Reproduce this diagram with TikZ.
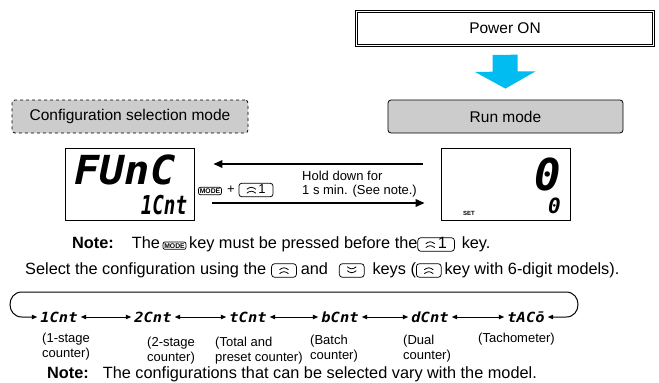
\documentclass[tikz,border=0pt]{standalone}
\usepackage{fontspec}
\usepackage{graphicx}
\setmainfont{Liberation Sans}
\newfontfamily\segfont{DejaVu Sans Mono}
\usetikzlibrary{arrows.meta}
\definecolor{flowblue}{RGB}{0,188,240}
\definecolor{boxgray}{RGB}{204,204,204}

\newcommand{\chevup}{\tikz[baseline=-0.3pt,line width=0.8pt,line cap=butt]{\draw (0pt,0pt)--(4.5pt,3pt)--(9pt,0pt);\draw (0pt,3.9pt)--(4.5pt,6.9pt)--(9pt,3.9pt);}}
\newcommand{\chevdown}{\tikz[baseline=-0.3pt,line width=0.8pt,line cap=butt]{\draw (0pt,6.9pt)--(4.5pt,3.9pt)--(9pt,6.9pt);\draw (0pt,3pt)--(4.5pt,0pt)--(9pt,3pt);}}
\newcommand{\keycap}[1]{\tikz[baseline=(kc.base)]\node[draw,line width=0.75pt,rounded corners=3pt,inner xsep=7.5pt,inner ysep=0.8pt,text height=9.5pt,text depth=2.5pt](kc){#1};}
\newcommand{\modekey}{\tikz[baseline=(mk.base)]\node[draw,line width=0.75pt,rounded corners=2pt,inner xsep=1.3pt,inner ysep=1.3pt,font=\fontsize{6.8}{7}\selectfont\bfseries](mk){MODE};}

\begin{document}
\begin{tikzpicture}[x=1pt,y=-1pt,
  boxlbl/.style={font=\fontsize{15.5}{17}\selectfont},
  body/.style={font=\fontsize{16.3}{18}\selectfont,inner sep=0pt},
  small/.style={font=\fontsize{13}{14.5}\selectfont,inner sep=0pt,align=left},
  dispbox/.style={draw,line width=0.8pt,fill=white,minimum width=129pt,minimum height=72pt},
  seg/.style={font=\segfont\bfseries\itshape,inner sep=0pt},
  conn/.style={line width=1.8pt},
  dbl/.style={line width=1pt,{Triangle[length=5.5pt,width=4.5pt]}-{Triangle[length=5.5pt,width=4.5pt]},shorten <=3pt,shorten >=3pt}
]
\useasboundingbox (0,0) rectangle (659,383);

% top boxes
\node[draw,double,line width=0.6pt,double distance=1.6pt,minimum width=297pt,minimum height=34pt,boxlbl] (power) at (505,28.5) {Power ON};
\node[draw,fill=boxgray,rounded corners=3pt,line width=0.8pt,minimum width=235pt,minimum height=33pt,boxlbl] (run) at (505.5,116.5) {Run mode};
\node[draw,dashed,fill=boxgray,rounded corners=3pt,line width=0.8pt,minimum width=236pt,minimum height=33pt,boxlbl] (cfg) at (130,116.5) {Configuration selection mode};
\draw[flowblue,line width=25pt,-{Triangle[length=17pt,width=60pt]},shorten <=9pt,shorten >=11pt] (power.south) -- (run.north);

% displays
\node[dispbox] (fdisp) at (130,184) {};
\node[dispbox] (rdisp) at (506,184) {};
\node[seg,font=\segfont\bfseries\itshape\fontsize{40}{40}\selectfont] (func) at (125,170) {\scalebox{1.05}[1]{FUnC}};
\node[seg,font=\segfont\bfseries\itshape\fontsize{26}{26}\selectfont] (onecnt) at (164,205) {\scalebox{0.74}[1]{1Cnt}};
\node[seg,anchor=north east,align=right,font=\segfont\bfseries\itshape\fontsize{21}{21}\selectfont] (zeros) at (561,158) {{\fontsize{44}{44}\selectfont 0}\\[1.5pt]0};
\node[inner sep=0pt,font=\fontsize{6}{6}\selectfont\bfseries] (set) at (469,213) {SET};

% connectors between displays
\draw[conn,-{Triangle[length=9pt,width=7.5pt]},shorten <=18.5pt,shorten >=18.5pt] ([yshift=20pt]rdisp.west) -- ([yshift=20pt]fdisp.east);
\draw[conn,-{Triangle[length=9pt,width=7.5pt]},shorten <=17.5pt,shorten >=16.5pt] ([yshift=-19pt]fdisp.east) -- ([yshift=-19pt]rdisp.west);
\node[inner sep=0pt] (modek) at (210,191) {\modekey};
\node[small] (plus) at (231,190) {+};
\node[inner sep=0pt,font=\fontsize{13}{14.5}\selectfont] (k1) at (256,190) {\keycap{\chevup\,1}};
\node[small,anchor=west] (hold) at (302,184) {Hold down for\\1 s min. (See note.)};

% notes
\node[body,anchor=base west] (note1) at (72,248) {\textbf{Note:}\hspace{18pt}The\,\modekey\,key must be pressed before the\keycap{\chevup\,1}\hspace{7pt}key.};
\node[body,anchor=base west] (select) at (25,274) {Select the configuration using the\hspace{5pt}\keycap{\chevup}\hspace{4pt}and\hspace{11pt}\keycap{\chevdown}\hspace{8pt}keys (\keycap{\chevup}\hspace{3pt}key with 6-digit models).};

% configuration row
\tikzset{rowseg/.style={seg,font=\segfont\bfseries\itshape\fontsize{14}{14}\selectfont}}
\node[rowseg] (w1) at (59,317) {\scalebox{1.1}[1]{1Cnt}};
\node[rowseg] (w2) at (153,317) {\scalebox{1.1}[1]{2Cnt}};
\node[rowseg] (w3) at (248,317) {\scalebox{1.1}[1]{tCnt}};
\node[rowseg] (w4) at (340,317) {\scalebox{1.1}[1]{bCnt}};
\node[rowseg] (w5) at (430,317) {\scalebox{1.1}[1]{dCnt}};
\node[rowseg] (w6) at (526,317) {\scalebox{1.1}[1]{tACō}};
\draw[dbl] (w1) -- (w2);
\draw[dbl] (w2) -- (w3);
\draw[dbl] (w3) -- (w4);
\draw[dbl] (w4) -- (w5);
\draw[dbl] (w5) -- (w6);
\draw[dbl] (w6.east) -- (566,317) .. controls (582,317) and (582,292) .. (566,292) -- (22,292) .. controls (6,292) and (6,317) .. (22,317) -- (w1.west);

% captions
\node[small,anchor=north west] (c1) at (42,333) {(1-stage\\counter)};
\node[small,anchor=north west] (c2) at (147,337) {(2-stage\\counter)};
\node[small,anchor=north west] (c3) at (215,337) {(Total and\\preset counter)};
\node[small,anchor=north west] (c4) at (310,335) {(Batch\\counter)};
\node[small,anchor=north west] (c5) at (403,335) {(Dual\\counter)};
\node[small,anchor=north west] (c6) at (478,333) {(Tachometer)};

\node[body,anchor=base west] (note2) at (47,378) {\textbf{Note:}\hspace{14pt}The configurations that can be selected vary with the model.};
\end{tikzpicture}
\end{document}
